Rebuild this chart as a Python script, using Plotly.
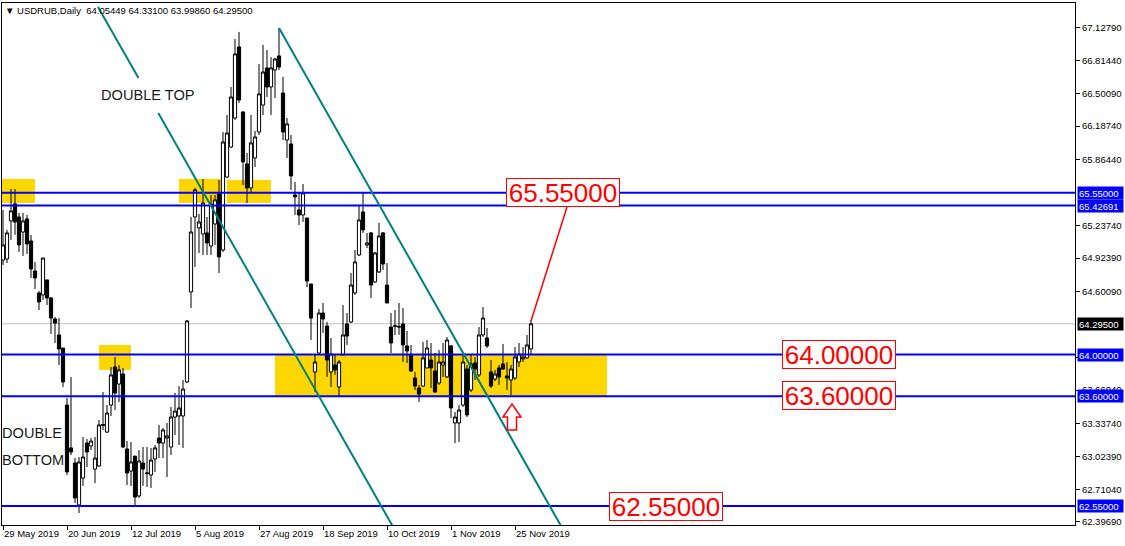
import pandas as pd
import plotly.graph_objects as go

# ---------------- data ----------------
dates = [d.strftime("%Y-%m-%d") for d in pd.bdate_range("2019-05-29", "2019-11-29")]

open_ = [64.906, 64.916, 65.280, 65.443, 65.318, 65.174, 65.299, 65.088, 64.801, 64.590,
         64.571, 64.715, 64.542, 64.341, 64.188, 64.063, 63.517, 63.106, 62.962, 62.560,
         62.818, 63.153, 63.125, 62.904, 62.933, 63.320, 63.258, 63.517, 63.881, 63.718,
         63.814, 63.096, 62.885, 63.028, 62.646, 62.962, 62.860, 62.847, 63.000, 63.201,
         63.153, 63.201, 63.115, 63.402, 63.412, 63.412, 63.738, 64.600, 65.318, 65.213,
         65.155, 65.165, 65.040, 65.251, 65.538, 65.002, 65.701, 65.988, 66.266, 66.946,
         66.323, 65.826, 65.596, 65.883, 66.132, 66.390, 66.745, 66.563, 66.726, 66.860,
         66.505, 66.055, 66.017, 65.529, 65.385, 65.337, 65.308, 64.676, 63.834, 64.015,
         64.398, 64.274, 63.834, 63.900, 63.690, 63.996, 64.293, 64.312, 64.590, 64.954,
         65.366, 65.050, 65.165, 64.696, 64.791, 65.165, 64.666, 64.264, 64.270, 64.270,
         64.293, 64.083, 63.996, 63.776, 63.680, 63.699, 63.872, 63.948, 63.843, 63.728,
         63.900, 63.786, 64.083, 63.345, 63.345, 63.517, 63.862, 63.661, 63.920, 63.805,
         64.188, 64.159, 63.834, 63.766, 63.872, 63.910, 63.795, 63.757, 63.776, 63.929,
         63.958, 63.968, 64.05449]
high = [65.385, 65.194, 65.586, 65.586, 65.357, 65.357, 65.337, 65.146, 64.887, 64.609,
        64.925, 64.715, 64.552, 64.360, 64.350, 64.063, 63.585, 63.786, 63.009, 63.019,
        63.211, 63.192, 63.201, 63.211, 63.373, 63.642, 63.517, 63.881, 63.977, 63.900,
        63.872, 63.172, 63.163, 63.028, 63.086, 63.115, 63.115, 63.106, 63.134, 63.326,
        63.297, 63.345, 63.498, 63.632, 63.699, 63.756, 64.332, 65.318, 65.596, 65.347,
        65.682, 65.318, 65.529, 65.529, 65.672, 66.132, 66.295, 66.563, 67.023, 67.090,
        66.333, 65.931, 66.295, 66.141, 66.783, 66.965, 66.917, 66.850, 66.841, 67.128,
        66.659, 66.266, 66.103, 65.653, 65.548, 65.634, 65.308, 64.676, 63.996, 64.437,
        64.494, 64.312, 64.159, 63.996, 63.948, 64.475, 64.398, 64.781, 65.002, 65.433,
        65.557, 65.165, 65.174, 64.983, 65.261, 65.174, 64.877, 64.398, 64.427, 64.494,
        64.446, 64.226, 64.092, 63.834, 63.709, 64.121, 64.140, 64.111, 64.015, 64.044,
        64.111, 64.169, 64.092, 63.450, 63.517, 63.996, 63.900, 63.996, 63.977, 64.264,
        64.456, 64.255, 63.948, 63.853, 63.900, 64.102, 63.929, 63.900, 64.073, 64.111,
        64.073, 64.188, 64.33100]
low = [64.858, 64.877, 65.098, 65.146, 64.983, 64.945, 64.964, 64.734, 64.628, 64.427,
       64.523, 64.475, 64.197, 64.111, 63.900, 63.690, 62.847, 63.038, 62.579, 62.483,
       62.742, 62.924, 63.086, 62.770, 62.924, 63.278, 63.248, 63.412, 63.469, 63.546,
       63.106, 62.751, 62.742, 62.550, 62.627, 62.742, 62.732, 62.723, 62.876, 63.009,
       63.009, 62.828, 63.038, 63.230, 63.134, 63.106, 63.728, 64.446, 64.839, 64.973,
       64.954, 64.954, 64.954, 65.050, 64.781, 64.983, 65.692, 65.978, 66.247, 66.410,
       65.624, 65.452, 65.557, 65.797, 66.103, 66.295, 66.467, 66.295, 66.458, 66.726,
       66.055, 65.883, 65.577, 65.337, 65.241, 65.270, 64.647, 64.140, 63.642, 63.996,
       64.207, 63.786, 63.690, 63.805, 63.594, 63.996, 64.092, 64.302, 64.571, 64.945,
       65.165, 65.021, 64.542, 64.686, 64.781, 64.810, 64.494, 64.015, 64.188, 64.188,
       63.929, 63.919, 63.834, 63.661, 63.546, 63.690, 63.872, 63.680, 63.632, 63.709,
       63.786, 63.776, 63.393, 63.153, 63.163, 63.498, 63.402, 63.642, 63.757, 63.786,
       64.169, 64.063, 63.680, 63.747, 63.709, 63.853, 63.661, 63.613, 63.757, 63.881,
       63.929, 63.958, 63.99860]
close = [65.050, 65.165, 65.376, 65.270, 65.050, 65.280, 65.060, 64.820, 64.734, 64.504,
         64.925, 64.542, 64.350, 64.302, 64.054, 63.738, 62.876, 63.067, 62.627, 62.971,
         63.019, 63.067, 63.172, 63.009, 63.326, 63.330, 63.440, 63.805, 63.632, 63.853,
         63.115, 62.866, 62.971, 62.636, 62.981, 62.904, 62.866, 62.990, 63.106, 63.153,
         63.278, 63.221, 63.402, 63.459, 63.488, 63.670, 64.322, 65.174, 65.577, 65.270,
         65.452, 65.069, 65.443, 65.481, 64.935, 66.036, 66.122, 66.467, 66.879, 66.438,
         65.845, 65.596, 66.027, 66.084, 66.496, 66.706, 66.563, 66.745, 66.831, 66.754,
         66.132, 66.209, 65.711, 65.510, 65.337, 65.548, 64.705, 64.350, 63.929, 64.398,
         64.341, 63.948, 64.006, 63.853, 63.929, 64.188, 64.178, 64.666, 64.887, 65.289,
         65.194, 65.069, 64.666, 64.973, 65.136, 64.868, 64.494, 64.111, 64.276, 64.264,
         64.092, 64.035, 63.843, 63.699, 63.622, 63.968, 64.063, 63.872, 63.642, 63.929,
         63.929, 64.140, 63.489, 63.402, 63.469, 63.929, 63.422, 63.910, 63.862, 64.188,
         64.350, 64.083, 63.699, 63.814, 63.786, 63.862, 63.776, 63.862, 63.977, 64.006,
         63.977, 64.092, 64.29500]

# horizontal levels
levels = [65.55, 65.42691, 64.00, 63.60, 62.55]
bid = 64.295
ytick_vals = [67.12790, 66.81440, 66.50090, 66.18740, 65.86440, 65.23740, 64.92390,
              64.60090, 63.97390, 63.66040, 63.33740, 63.02390, 62.71040, 62.39690]
xtick_idx = [0, 16, 32, 48, 64, 80, 96, 112, 128]
xtick_text = ["29 May 2019", "20 Jun 2019", "12 Jul 2019", "5 Aug 2019", "27 Aug 2019",
              "18 Sep 2019", "10 Oct 2019", "1 Nov 2019", "25 Nov 2019"]

# zones (bar index range, price range)
zones = [(-0.25, 8, 65.452, 65.682), (44, 54.75, 65.452, 65.682), (56, 67, 65.452, 65.672),
         (24, 32, 63.853, 64.092), (68, 151, 63.60, 64.00)]
# trend lines (bar index, price)
teal_lines = [((23.75, 67.329), (33.875, 66.649)), ((38.825, 66.314), (97.375, 62.359)),
              ((69, 67.128), (139.5, 62.359))]
target_line = ((132, 64.322), (141, 65.414))
# red boxed labels: (text, bar index centre, price)
red_labels = [("65.55000", 140, 65.553), ("64.00000", 209, 64.00), ("63.60000", 209, 63.605),
              ("62.55000", 165.75, 62.55)]

# ---------------- figure ----------------
W, H = 1125, 546
L, R, T, B = 2, 1075, 3, 525
def px(x):
    return (x - L) / (R - L)
def py(y):
    return (B - y) / (B - T)

fig = go.Figure()
fig.add_trace(go.Candlestick(
    x=dates, open=open_, high=high, low=low, close=close,
    increasing=dict(line=dict(color="black", width=1), fillcolor="white"),
    decreasing=dict(line=dict(color="black", width=1), fillcolor="black"),
    whiskerwidth=0, hoverinfo="skip", showlegend=False))

shapes = []
for x0, x1, y0, y1 in zones:
    shapes.append(dict(type="rect", xref="x", yref="y", x0=x0, x1=x1, y0=y0, y1=y1,
                       fillcolor="#FFD700", line=dict(width=0), layer="below"))
shapes.append(dict(type="line", xref="paper", yref="y", x0=0, x1=1, y0=bid, y1=bid,
                   line=dict(color="#C0C0C0", width=1), layer="below"))
for lv in levels:
    shapes.append(dict(type="line", xref="paper", yref="y", x0=0, x1=1, y0=lv, y1=lv,
                       line=dict(color="#0000FF", width=2)))
for (a, b) in teal_lines:
    shapes.append(dict(type="line", xref="x", yref="y", x0=a[0], y0=a[1], x1=b[0], y1=b[1],
                       line=dict(color="#008080", width=2)))
shapes.append(dict(type="line", xref="x", yref="y", x0=target_line[0][0], y0=target_line[0][1],
                   x1=target_line[1][0], y1=target_line[1][1], line=dict(color="#FF0000", width=1.5)))
# arrow (up) outline
arrow_px = [(512, 404), (521, 417), (516.5, 417), (516.5, 430), (507.5, 430), (507.5, 417), (503, 417)]
path = "M " + " L ".join(f"{px(a):.5f},{py(b):.5f}" for a, b in arrow_px) + " Z"
shapes.append(dict(type="path", xref="paper", yref="paper", path=path,
                   fillcolor="white", line=dict(color="#FF0000", width=1.5)))

annotations = []
for txt, xi, yv in red_labels:
    annotations.append(dict(x=xi, y=yv, xref="x", yref="y", text=txt, showarrow=False,
                            font=dict(family="Liberation Sans, Arial", size=26, color="#FF0000"),
                            bgcolor="white", bordercolor="#FF0000", borderwidth=1, borderpad=0,
                            width=112, height=27, xanchor="center", yanchor="middle"))
# right axis highlighted labels
for lv in levels:
    annotations.append(dict(x=px(1077), y=lv, xref="paper", yref="y", text=f"{lv:.5f}",
                            showarrow=False, xanchor="left", yanchor="middle",
                            font=dict(family="Liberation Sans, Arial", size=9.5, color="white"),
                            bgcolor="#0000FF", borderpad=1, width=43, height=10, align="left"))
annotations.append(dict(x=px(1077), y=bid, xref="paper", yref="y", text=f"{bid:.5f}",
                        showarrow=False, xanchor="left", yanchor="middle",
                        font=dict(family="Liberation Sans, Arial", size=9.5, color="white"),
                        bgcolor="black", borderpad=1, width=43, height=10, align="left"))
# texts
txt_font = dict(family="Liberation Sans, Arial", size=14.6, color="#1a1a1a")
annotations.append(dict(x=px(99), y=py(95), xref="paper", yref="paper", text="DOUBLE TOP",
                        showarrow=False, xanchor="left", yanchor="middle", font=txt_font))
annotations.append(dict(x=px(0), y=py(433), xref="paper", yref="paper", text="DOUBLE",
                        showarrow=False, xanchor="left", yanchor="middle", font=txt_font))
annotations.append(dict(x=px(0), y=py(460), xref="paper", yref="paper", text="BOTTOM",
                        showarrow=False, xanchor="left", yanchor="middle", font=txt_font))
annotations.append(dict(x=px(3), y=py(10), xref="paper", yref="paper",
                        text="▼ USDRUB,Daily  64.05449 64.33100 63.99860 64.29500",
                        showarrow=False, xanchor="left", yanchor="middle",
                        font=dict(family="Liberation Sans, Arial", size=9.5, color="black")))

fig.update_layout(
    width=W, height=H, margin=dict(l=L, r=W - R, t=T, b=H - B),
    paper_bgcolor="white", plot_bgcolor="white",
    shapes=shapes, annotations=annotations, boxgap=0.2, boxgroupgap=0,
    showlegend=False,
    xaxis=dict(type="category", range=[-0.25, 268], rangeslider=dict(visible=False),
               showgrid=False, zeroline=False, showline=True, linecolor="black", linewidth=1,
               mirror=True, ticks="outside", ticklen=4, tickcolor="black",
               tickvals=[dates[i] for i in xtick_idx], ticktext=xtick_text,
               ticklabelposition="outside right",
               tickfont=dict(family="Liberation Sans, Arial", size=9.5, color="black"),
               fixedrange=True),
    yaxis=dict(side="right", range=[62.368, 67.367], showgrid=False, zeroline=False,
               showline=True, linecolor="black", linewidth=1, mirror=True,
               ticks="outside", ticklen=4, tickcolor="black",
               tickvals=ytick_vals, ticktext=[f"{v:.5f}" for v in ytick_vals],
               tickfont=dict(family="Liberation Sans, Arial", size=9.5, color="black"),
               fixedrange=True),
)

fig.write_html("out.html", config={"displayModeBar": False},
               post_script="document.body.style.margin='0';document.body.style.padding='0';")
